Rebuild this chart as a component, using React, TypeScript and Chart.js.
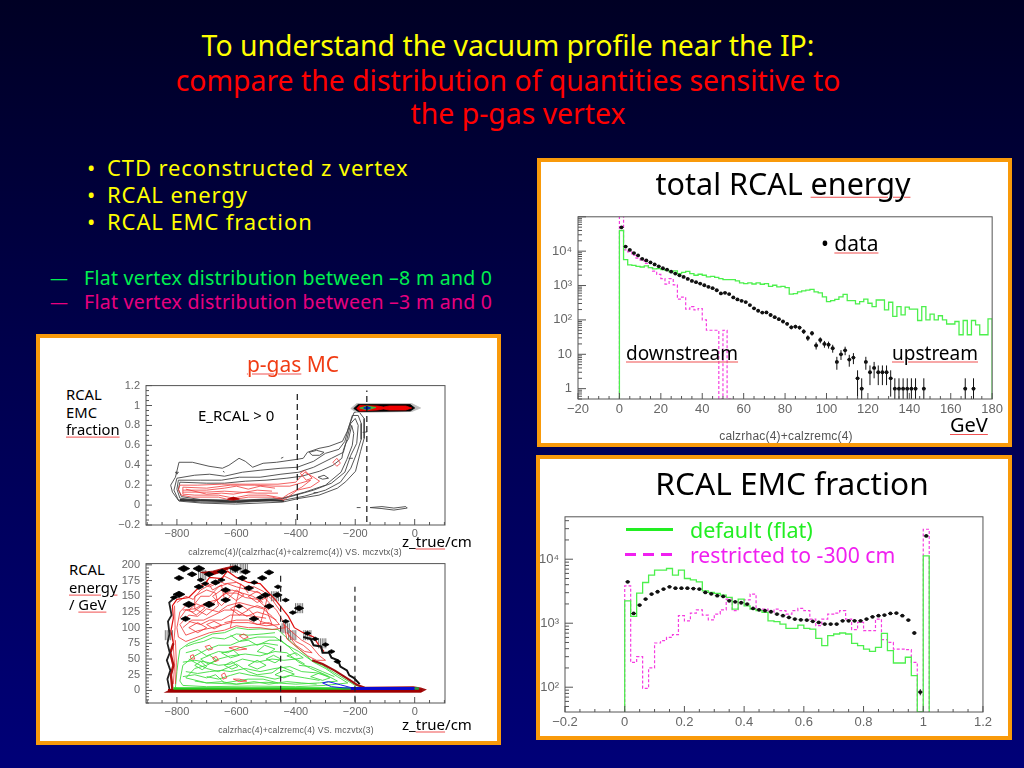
import React, { useEffect, useRef } from "react";
import { Chart, registerables } from "chart.js";

Chart.register(...registerables);

type P = [number, number];

// ---------- total RCAL energy ----------
const energyEdges = [0,2,4,6,8,10,12,14,16,18,20,22,24,26,28,30,32,34,36,38,40,42,44,46,48,50,52,54,56,58,60,62,64,66,68,70,72,74,76,78,80,82,84,86,88,90,92,94,96,98,100,102,104,106,108,110,112,114,116,118,120,122,124,126,128,130,132,134,136,138,140,142,144,146,148,150,152,154,156,158,160,162,164,166,168,170,172,174,176,178,180];
const energyFlat = [
  40000,5700,4000,3860,3620,3460,3750,3300,3040,3110,
  2900,2770,2490,2660,2220,2430,2590,2220,1990,2130,
  1990,1780,1860,1720,1590,1490,1490,1490,1360,1190,
  1140,1190,1110,1190,1090,1140,950,1020,910,950,
  870,560,585,655,700,735,770,655,610,470,
  340,362,395,470,550,363,363,292,340,400,
  305,245,380,380,195,327,126,244,140,234,
  205,205,96,244,100,147,100,132,100,76,
  76,90,37,96,37,96,72,37,37,107,
];
const energyRestrictedEdges = [0,2,4,6,8,10,12,14,16,18,20,22,24,26,28,30,32,34,36,38,40,42,44,46,48,50,52,54];
const energyRestricted = [200000,10900,9500,7600,6300,5500,4400,3300,2620,2100,1600,1100,1600,1050,400,460,205,245,195,215,100,50,50,50,0.5,50,0.5];
const energyDataX = [1,3,5,7,9,11,13,15,17,19,21,23,25,27,29,31,33,35,37,39,41,43,45,47,49,51,53,55,57,59,61,63,65,67,69,71,73,75,77,79,81,83,85,87,89,91,93,95,97,99,101,103,105,107,109,111,113,115,117,119,121,123,125,127,129,131,133,135,137,139,141,143,147,167,171];
const energyDataY = [49300,13600,10900,8780,7500,6000,5370,4700,4120,3620,3180,2900,2530,2230,1980,1780,1560,1360,1250,1140,1020,915,840,730,590,615,565,450,395,360,330,270,218,185,163,165,139,120,105,90,77,61,64,60,46,30,41,18,26,20,19,15,6,10,13,7,8,2,1,6,3,4,3,3,3,2,1,1,1,1,1,1,1,1,1];
const energyXTicks = [-20,0,20,40,60,80,100,120,140,160,180];
const energyTicks = [1,10,100,1000,10000];
const energyTickLabels = ["1","10","10²","10³","10⁴"];

// ---------- RCAL EMC fraction ----------
const fractionEdges = [0,0.02,0.04,0.06,0.08,0.1,0.12,0.14,0.16,0.18,0.2,0.22,0.24,0.26,0.28,0.3,0.32,0.34,0.36,0.38,0.4,0.42,0.44,0.46,0.48,0.5,0.52,0.54,0.56,0.58,0.6,0.62,0.64,0.66,0.68,0.7,0.72,0.74,0.76,0.78,0.8,0.82,0.84,0.86,0.88,0.9,0.92,0.94,0.96,0.98,1,1.02];
const fractionFlat = [2240,1280,2950,4330,5630,6740,6740,7160,5630,6740,5000,4770,4430,3210,3030,2920,2750,2530,1660,2380,1870,1660,1570,1480,1090,1060,970,830,830,935,830,811,581,446,638,678,703,678,485,446,395,364,420,695,372,239,239,294,152,41,11270];
const fractionRestricted = [3840,245,300,96,200,491,533,601,662,1310,1090,1440,1620,1340,1130,1390,1620,2380,1570,2110,2320,2850,1660,1660,1480,1660,1570,1390,1570,1700,1570,1160,914,1160,1390,1440,1570,1160,792,1030,764,764,1160,553,502,395,395,386,245,41,29400];
const fractionDataX = [0.01,0.03,0.05,0.07,0.09,0.11,0.13,0.15,0.17,0.19,0.21,0.23,0.25,0.27,0.29,0.31,0.33,0.35,0.37,0.39,0.41,0.43,0.45,0.47,0.49,0.51,0.53,0.55,0.57,0.59,0.61,0.63,0.65,0.67,0.69,0.71,0.73,0.75,0.77,0.79,0.81,0.83,0.85,0.87,0.89,0.91,0.93,0.95,0.97,0.99,1.01];
const fractionDataY = [4430,1420,1920,2380,2850,3100,3410,3700,3530,3530,3530,3480,3410,3030,2880,2690,2620,2240,2160,2090,1990,1700,1620,1570,1510,1390,1310,1230,1160,1130,1120,1070,1030,970,970,970,1090,1090,1090,1090,1160,1260,1310,1340,1420,1440,1310,1120,703,84,23100];
const fractionXTicks = [-0.2,0,0.2,0.4,0.6,0.8,1,1.2];
const fractionTicks = [100,1000,10000];
const fractionTickLabels = ["10²","10³","10⁴"];

// ---------- p-gas MC: EMC fraction vs z ----------
const fracGray: P[][] = [
  [[-793,.43],[-748,.43],[-692,.39],[-647,.37],[-625,.40],[-591,.47],[-570,.44],[-545,.38],[-510,.42],[-465,.43],[-395,.46],[-375,.47],[-361,.53],[-322,.57],[-288,.59],[-243,.64],[-227,.74],[-215,.84],[-204,.93],[-188,.94],[-170,.87],[-170,.67],[-182,.54],[-199,.34],[-232,.235],[-260,.17],[-322,.10],[-389,.067],[-445,.03],[-603,.01],[-715,.02],[-793,.04],[-815,.13],[-821,.2],[-805,.28],[-793,.43]],
  [[-800,.27],[-740,.30],[-690,.31],[-640,.29],[-580,.33],[-520,.35],[-450,.37],[-395,.38],[-340,.44],[-300,.52],[-255,.56],[-235,.64],[-222,.78],[-210,.9],[-190,.9],[-180,.82],[-180,.66],[-195,.52],[-215,.37],[-250,.23],[-300,.15],[-370,.09],[-440,.05],[-600,.025],[-720,.03],[-795,.05],[-810,.15],[-800,.27]],
  [[-795,.25],[-720,.25],[-650,.25],[-590,.28],[-520,.28],[-450,.31],[-390,.33],[-340,.38],[-280,.47],[-240,.53],[-228,.66],[-215,.82],[-200,.87],[-190,.8],[-195,.62],[-215,.50],[-235,.33],[-280,.22],[-340,.15],[-400,.10],[-450,.06],[-600,.04],[-720,.045],[-790,.07],[-800,.16],[-795,.25]],
  [[-790,.23],[-700,.22],[-640,.22],[-570,.24],[-500,.25],[-430,.27],[-380,.29],[-320,.34],[-275,.40],[-245,.47],[-240,.55],[-232,.62],[-222,.67],[-212,.80],[-205,.72],[-210,.60],[-228,.46],[-248,.33],[-300,.20],[-370,.13],[-420,.09],[-450,.065],[-600,.05],[-720,.055],[-785,.085],[-795,.16],[-790,.23]],
  [[-355,.53],[-330,.55],[-305,.53],[-320,.50],[-345,.50],[-355,.53]],
  [[-325,.28],[-305,.30],[-290,.27],[-310,.26],[-325,.28]],
  [[-150,-.025],[-110,-.015],[-70,-.03],[-30,-.015],[-25,-.03],[-70,-.05],[-110,-.035],[-150,-.025]],
  [[-195,-.025],[-182,-.025]],
  [[-175,.73],[-160,.735]],
  [[-222,.47],[-208,.47]],
  [[-340,.125],[-325,.125]],
  [[-450,.47],[-442,.48]],
  [[-645,.34],[-640,.33]],
  [[-805,.33],[-795,.33],[-800,.31],[-805,.33]],
];
const fracDarkBand: P[] = [[-790,.05],[-700,.045],[-600,.035],[-500,.05],[-440,.04]];
const fracRed: P[][] = [
  [[-790,.20],[-730,.20],[-650,.21],[-590,.21],[-520,.21],[-460,.21],[-400,.23],[-370,.33],[-340,.28],[-320,.24],[-350,.18],[-395,.15],[-440,.05],[-480,.08],[-560,.08],[-620,.05],[-660,.08],[-750,.08],[-785,.1],[-795,.15],[-790,.2]],
  [[-780,.18],[-700,.17],[-620,.2],[-540,.2],[-470,.19],[-420,.19],[-385,.22],[-350,.25],[-380,.18],[-425,.11],[-445,.07],[-500,.10],[-560,.10],[-610,.07],[-660,.10],[-740,.10],[-780,.11],[-780,.18]],
  [[-780,.15],[-700,.15],[-640,.17],[-600,.19],[-560,.16],[-520,.19],[-470,.17]],
  [[-780,.13],[-700,.13],[-640,.14],[-590,.13],[-530,.12],[-460,.12]],
  [[-770,.16],[-700,.11],[-650,.12],[-610,.11],[-570,.13],[-530,.15],[-480,.14]],
  [[-275,.43],[-262,.47],[-250,.42],[-262,.39],[-275,.43]],
  [[-385,.32],[-370,.35],[-345,.27],[-365,.25],[-385,.32]],
];
const fracRedSpot: P[] = [[-630,.06],[-610,.08],[-590,.06],[-610,.05],[-630,.06]];
const fracBandGray: P[] = [[-215,.97],[-195,1.02],[-10,1.02],[20,.975],[-10,.94],[-195,.93],[-215,.97]];
const fracBandBlack: P[] = [[-205,.97],[-190,1.01],[-15,1.01],[0,.975],[-15,.945],[-190,.94],[-205,.97]];
const fracBandRed: P[] = [[-195,.97],[-185,1.0],[-125,.995],[-105,.985],[-85,.995],[-30,.995],[-10,.975],[-30,.955],[-85,.955],[-105,.965],[-125,.955],[-185,.945],[-195,.97]];
const fracBandGreen: P[] = [[-185,.975],[-160,.995],[-130,.98],[-160,.955],[-185,.975]];
const fracBandBlue: P[] = [[-172,.975],[-160,.99],[-148,.975],[-160,.96],[-172,.975]];
const fracCutLeft: P[] = [[-395,-.15],[-395,1.12]];
const fracCutRight: P[] = [[-161,-.17],[-161,1.15]];
const fracYTicks = [-0.2,0,0.2,0.4,0.6,0.8,1,1.2];
const zAxisTicks = [-800,-600,-400,-200,0];

// ---------- p-gas MC: RCAL energy vs z ----------
const eGreen: P[][] = [
  [[-805,5],[-800,30],[-795,50],[-790,65],[-760,75],[-720,82],[-680,90],[-640,92],[-600,100],[-560,97],[-520,98],[-460,97],[-440,88],[-410,75],[-375,60],[-345,47],[-310,40],[-270,28],[-235,18],[-200,8],[-150,3],[-800,3],[-805,5]],
  [[-790,15],[-780,40],[-740,55],[-700,65],[-660,72],[-620,72],[-580,80],[-530,85],[-470,85],[-430,72],[-390,62],[-340,45],[-300,35],[-260,22],[-225,12],[-300,8],[-400,6],[-550,7],[-700,6],[-780,8],[-790,15]],
  [[-770,20],[-740,35],[-700,40],[-660,50],[-620,55],[-570,58],[-520,55],[-470,62],[-430,60],[-390,45],[-350,35],[-300,25],[-260,15],[-320,12],[-400,10],[-500,13],[-600,10],[-700,12],[-770,20]],
  [[-770,60],[-730,65],[-700,55],[-660,62],[-630,60],[-590,68],[-550,72],[-500,75],[-460,72]],
  [[-780,45],[-740,48],[-700,45],[-660,40],[-620,42],[-580,50],[-530,45],[-480,50],[-440,48],[-400,50],[-370,42]],
  [[-770,30],[-730,27],[-690,30],[-650,32],[-620,30],[-570,35],[-520,30],[-470,35],[-420,38],[-380,30],[-330,28],[-290,22]],
  [[-700,22],[-660,18],[-620,24],[-590,28],[-550,24],[-510,22],[-470,18],[-420,24],[-370,20],[-320,16]],
  [[-740,15],[-700,12],[-650,14],[-600,10],[-540,14],[-490,10],[-430,14],[-380,12],[-330,10]],
  [[-650,60],[-620,52],[-590,56],[-610,64],[-650,60]],
  [[-530,62],[-495,58],[-470,66],[-505,72],[-530,62]],
  [[-720,50],[-695,42],[-665,48],[-690,56],[-720,50]],
  [[-560,40],[-530,34],[-500,40],[-530,48],[-560,40]],
  [[-430,55],[-400,50],[-375,52],[-400,60],[-430,55]],
  [[-470,25],[-440,20],[-405,26],[-440,32],[-470,25]],
  [[-350,22],[-310,16],[-285,20],[-320,28],[-350,22]],
  [[-770,70],[-740,75],[-710,78],[-680,84],[-640,82],[-600,90],[-560,88],[-510,90],[-470,92]],
  [[-390,40],[-350,38],[-310,30],[-270,22]],
  [[-760,50],[-730,42],[-700,35],[-660,30],[-630,36],[-600,42],[-560,30],[-530,25],[-480,28],[-450,38],[-410,30]],
  [[-780,22],[-740,25],[-700,20],[-670,25],[-640,12],[-600,15],[-560,18],[-510,18],[-460,12]],
  [[-620,88],[-590,78],[-560,80],[-530,72],[-490,80],[-450,80],[-420,68],[-395,55]],
  [[-740,40],[-715,33],[-700,38],[-720,46],[-740,40]],
  [[-640,40],[-615,34],[-595,38],[-615,46],[-640,40]],
  [[-500,50],[-470,44],[-450,50],[-475,56],[-500,50]],
];
const eRed: P[][] = [
  [[-800,100],[-790,125],[-770,135],[-740,138],[-720,150],[-690,150],[-660,165],[-630,170],[-600,165],[-560,160],[-520,155],[-490,140],[-465,128],[-445,112],[-435,100],[-480,97],[-520,100],[-560,100],[-600,103],[-640,96],[-690,92],[-730,85],[-770,78],[-795,85],[-800,100]],
  [[-790,105],[-760,120],[-730,118],[-700,130],[-660,125],[-630,135],[-590,140],[-550,135],[-510,130],[-480,118],[-455,105],[-500,103],[-560,108],[-620,108],[-680,100],[-730,95],[-770,88],[-790,105]],
  [[-780,128],[-740,130],[-700,140],[-660,145],[-640,155],[-600,155],[-570,148],[-530,145],[-490,128]],
  [[-760,110],[-720,105],[-690,112],[-650,112],[-620,120],[-580,120],[-540,118],[-500,115]],
  [[-720,170],[-690,165],[-660,172],[-640,182],[-610,175],[-580,168],[-560,155]],
  [[-680,150],[-650,135],[-620,150],[-650,160],[-680,150]],
  [[-620,130],[-590,120],[-560,128],[-590,138],[-620,130]],
  [[-760,100],[-730,92],[-700,100],[-730,108],[-760,100]],
  [[-440,105],[-410,92],[-380,80],[-350,72],[-320,55],[-300,48],[-330,48],[-360,55],[-395,68],[-430,82],[-440,105]],
  [[-430,92],[-400,78],[-375,72],[-345,60],[-370,62],[-400,72],[-430,92]],
  [[-812,10],[-808,40],[-812,70],[-806,100],[-808,135]],
  [[-805,10],[-802,45],[-805,80]],
  [[-740,150],[-700,160],[-670,155],[-660,135],[-700,120],[-740,130],[-740,150]],
  [[-560,130],[-530,135],[-500,130],[-480,105],[-520,110],[-560,130]],
  [[-625,68],[-600,70],[-565,66],[-600,64],[-625,68]],
  [[-705,70],[-690,72],[-680,66],[-695,64],[-705,70]],
  [[-680,52],[-668,54],[-660,48],[-672,46],[-680,52]],
  [[-650,25],[-640,28],[-632,20],[-645,18],[-650,25]],
  [[-610,18],[-590,18],[-565,15],[-590,14],[-610,18]],
  [[-755,55],[-745,57],[-740,50],[-752,50],[-755,55]],
  [[-590,87],[-575,90],[-560,85],[-575,82],[-590,87]],
  [[-800,140],[-770,150],[-745,145],[-720,160],[-690,168],[-660,175],[-640,170],[-600,172],[-570,165],[-540,165],[-510,158],[-480,145],[-450,125]],
  [[-790,115],[-770,128],[-745,125],[-715,135],[-680,138],[-650,150],[-615,160],[-580,155],[-545,150],[-510,140]],
  [[-780,100],[-750,112],[-710,112],[-675,120],[-640,128],[-600,128],[-565,118],[-530,125],[-495,120],[-465,112]],
  [[-640,108],[-600,112],[-560,112],[-530,105],[-490,108],[-460,100]],
  [[-760,128],[-735,138],[-705,132],[-735,120],[-760,128]],
  [[-560,150],[-530,158],[-500,148],[-530,140],[-560,150]],
  [[-700,105],[-675,110],[-650,104],[-675,98],[-700,105]],
  [[-620,150],[-600,160],[-575,152],[-600,143],[-620,150]],
  [[-700,175],[-680,160],[-650,168],[-640,145]],
  [[-620,100],[-610,125],[-595,150],[-585,170]],
  [[-520,105],[-505,130],[-495,150]],
];
const eEnvelopeRed: P[] = [[-815,5],[-820,25],[-812,40],[-822,60],[-812,75],[-820,95],[-812,115],[-815,135],[-800,145],[-760,148],[-735,160],[-705,170],[-690,180],[-650,178],[-630,190],[-600,180],[-560,172],[-520,170],[-500,160],[-470,145],[-445,130],[-425,118],[-405,100],[-375,92],[-340,85],[-320,70],[-305,62]];
const eLeftRed: P[] = [[-815,0],[-820,25],[-812,40],[-822,60],[-812,75]];
const eEdgeRed: P[] = [[-345,48],[-310,42],[-270,32],[-230,20],[-195,9],[-165,4],[-5,5],[20,3],[32,1],[20,-2],[-830,-2],[-822,0]];
const eEdgeBlack: P[] = [[-825,2],[-832,18],[-822,32],[-834,48],[-824,60],[-832,75],[-825,90],[-830,110],[-818,120],[-826,140],[-812,146],[-800,152]];
const eDiagBlack: P[] = [[-375,85],[-350,82],[-340,72],[-315,70],[-310,60],[-288,60],[-280,52],[-258,48],[-250,38],[-228,32],[-220,24],[-205,20],[-185,10]];
const eStreak: P[] = [[-720,188],[-680,190],[-640,195],[-610,198],[-640,190],[-680,184],[-720,188]];
const eGreenStrip: P[] = [[-812,3],[-200,3]];
const eBlueStrip: P[] = [[-215,3],[0,3]];
const eGreenEnd: P[] = [[0,3],[14,3]];
const eBaseRed: P[] = [[-830,0],[25,0]];
const eBlueLoop: P[] = [[-310,12],[-290,14],[-250,9],[-210,4],[-235,4],[-280,6],[-310,12]];
const eBlobX = [-777,-726,-793,-749,-692,-648,-603,-569,-490,-513,-580,-670,-726,-793,-636,-636,-558,-502,-462,-434,-389,-692,-771,-541,-591,-490,-434,-361,-300,-260,-705,-760,-650,-720,-540,-460,-810,-520,-410,-335,-280];
const eBlobY = [194,194,179,185,185,189,194,189,188,179,179,172,165,153,160,144,163,152,152,144,131,137,114,114,134,134,110,91,73,46,170,137,176,176,172,165,148,148,124,82,62];
const eBlobSize = [5,5,4,4,4,4,5,4,4,4,4,4,4,5,4,4,4,4,4,3,4,5,4,4,3,4,3,3,3,3,3,5,3,3,3,3,3,3,3,3,3];
const eCombX = [-827,-608,-715,-389,-434,-412,-361,-311,-575,-470];
const eCombY = [88,195,184,131,99,88,88,75,194,150];
const eCutLeft: P[] = [[-451,-18],[-451,187]];
const eCutRight: P[] = [[-201,-18],[-201,165]];
const eYTicks = [0,25,50,75,100,125,150,175,200];

const FONT = '"Noto Sans", sans-serif';
const AXIS_FONT = '"Liberation Sans", sans-serif';

const pts = (xs: number[], ys: number[]) => xs.map((x, i) => ({ x, y: ys[i] }));
const pairs = (ps: P[]) => ps.map(([x, y]) => ({ x, y }));
const hist = (edges: number[], counts: number[], floor: number) => [
  { x: edges[0], y: floor },
  ...counts.map((y, i) => ({ x: edges[i], y })),
  { x: edges[counts.length], y: floor },
];
const errorBars = (xs: number[], ys: number[], floor: number, halfBin: number) =>
  xs.flatMap((x, i) => {
    const e = Math.sqrt(ys[i]);
    return [
      { x, y: Math.max(ys[i] - e, floor) }, { x, y: ys[i] + e }, { x, y: NaN },
      { x: x - halfBin, y: ys[i] }, { x: x + halfBin, y: ys[i] }, { x, y: NaN },
    ];
  });
const combs = (xs: number[], ys: number[]) =>
  xs.flatMap((x, i) =>
    [-12, -6, 0, 6, 12].flatMap((d) => [{ x: x + d, y: ys[i] - 8 }, { x: x + d, y: ys[i] + 8 }, { x, y: NaN }])
  );

const line = (data: any[], color: string, width = 0.8, extra: any = {}) => ({
  data, borderColor: color, backgroundColor: color, borderWidth: width,
  pointRadius: 0, fill: false, tension: 0, ...extra,
});
const dots = (data: any[], color: string, radius: any, style = "circle") => ({
  data, showLine: false, borderColor: color, backgroundColor: color, borderWidth: 0,
  pointRadius: radius, pointStyle: style,
});
const filled = (ps: P[], color: string) => line(pairs(ps), color, 0.8, { fill: "shape" });
const blob = (x: number, y: number, s: number): P[] => [[x - s * 4, y], [x, y + s], [x + s * 4, y], [x, y - s], [x - s * 4, y]];

const makeFrameTicks = (c: any) => ({
  id: "frameTicks",
  afterDatasetsDraw(chart: any) {
    const { ctx, chartArea: a, scales: { x, y } } = chart;
    ctx.save();
    ctx.strokeStyle = "#555";
    ctx.lineWidth = 1;
    ctx.strokeRect(a.left, a.top, a.right - a.left, a.bottom - a.top);
    const vt = (v: number, len: number) => {
      const px = x.getPixelForValue(v);
      ctx.beginPath(); ctx.moveTo(px, a.bottom); ctx.lineTo(px, a.bottom - len); ctx.stroke();
    };
    const ht = (v: number, len: number) => {
      const py = y.getPixelForValue(v);
      ctx.beginPath(); ctx.moveTo(a.left, py); ctx.lineTo(a.left + len, py); ctx.stroke();
    };
    const linear = (min: number, max: number, major: number, minor: number, draw: any) => {
      const first = Math.ceil(min / minor - 1e-6);
      const last = Math.floor(max / minor + 1e-6);
      for (let k = first; k <= last; k++) {
        const v = k * minor;
        const r = v / major;
        draw(v, Math.abs(r - Math.round(r)) < 1e-6 ? 6 : 3);
      }
    };
    linear(c.xMin, c.xMax, c.xMajor, c.xMinor, vt);
    if (c.logY) {
      for (let d = -1; d <= 6; d++) {
        for (let m = 1; m < 10; m++) {
          const v = m * Math.pow(10, d);
          if (v >= c.yMin && v <= c.yMax) ht(v, m === 1 ? 8 : 4);
        }
      }
    } else {
      linear(c.yMin, c.yMax, c.yMajor, c.yMinor, ht);
    }
    ctx.restore();
  },
});

const fmt = (v: number) => {
  const r = Number(Number(v).toFixed(2));
  return (r < 0 ? "−" : "") + String(Math.abs(r));
};

type Box = { l: number; t: number; r: number; b: number };
// The room Chart.js leaves above the plot area comes to 13px here, so the canvas is placed with that in mind.
const AXIS_W = 38, AXIS_H = 22, PAD_R = 12, PAD_T = 13;

function options(c: any) {
  const tickBase = {
    color: "#666",
    font: { family: AXIS_FONT, size: c.fontSize ?? 11 },
    autoSkip: false,
    maxRotation: 0,
    minRotation: 0,
  };
  const off = { display: false, drawTicks: false };
  return {
    responsive: false,
    animation: false,
    events: [],
    layout: { autoPadding: false, padding: { left: 0, right: PAD_R, top: 0, bottom: 0 } },
    plugins: { legend: { display: false }, tooltip: { enabled: false } },
    scales: {
      x: {
        type: "linear", min: c.xMin, max: c.xMax,
        grid: off, border: { display: false },
        ticks: {
          ...tickBase, padding: c.xPad ?? 3,
          callback: (v: number) => fmt(v),
        },
        afterBuildTicks(s: any) { s.ticks = c.xTicks.map((value: number) => ({ value })); },
        afterFit(s: any) { s.height = AXIS_H; },
      },
      y: {
        type: c.logY ? "logarithmic" : "linear", min: c.yMin, max: c.yMax,
        grid: off, border: { display: false },
        ticks: {
          ...tickBase, padding: 6,
          callback: (v: number) => (c.yLabels ? c.yLabels[c.yTicks.indexOf(v)] : fmt(v)),
        },
        afterBuildTicks(s: any) { s.ticks = c.yTicks.map((value: number) => ({ value })); },
        afterFit(s: any) { s.width = AXIS_W; },
      },
    },
  };
}

function Plot({ box, datasets, axis }: { box: Box; datasets: any[]; axis: any }) {
  const ref = useRef<HTMLCanvasElement>(null);
  useEffect(() => {
    const chart = new Chart(ref.current as HTMLCanvasElement, {
      type: "line",
      // Chart.js paints the first dataset last, so the list is reversed to paint in reading order.
      data: { datasets: [...datasets].reverse() },
      options: options(axis) as any,
      plugins: [makeFrameTicks(axis)],
    } as any);
    return () => chart.destroy();
  }, []);
  const w = box.r - box.l + AXIS_W + PAD_R;
  const h = box.b - box.t + AXIS_H + PAD_T;
  return (
    <canvas
      ref={ref}
      width={w}
      height={h}
      style={{ position: "absolute", left: box.l - AXIS_W, top: box.t - PAD_T, width: w, height: h, filter: "blur(0.4px)" }}
    />
  );
}

const GREEN = "#4cf04c";
const MAGENTA = "#f53de0";
const DASH = { borderDash: [3, 2] };
const CUT = { borderDash: [6, 4] };

const energySets = [
  line(hist(energyRestrictedEdges, energyRestricted, 0.5), MAGENTA, 1.2, { stepped: true, ...DASH }),
  line(hist(energyEdges, energyFlat, 0.5), GREEN, 1.3, { stepped: true }),
  line(errorBars(energyDataX, energyDataY, 0.5, 0.9), "#111", 1),
  dots(pts(energyDataX, energyDataY), "#111", 1.9),
];
const fractionSets = [
  line(hist(fractionEdges, fractionRestricted, 41), MAGENTA, 1.2, { stepped: true, ...DASH }),
  line(hist(fractionEdges, fractionFlat, 41), GREEN, 1.3, { stepped: true }),
  line(errorBars(fractionDataX, fractionDataY, 41, 0.008), "#111", 1),
  dots(pts(fractionDataX, fractionDataY), "#111", 1.9),
];
const fracSets = [
  ...fracGray.map((c) => line(pairs(c), "#444", 0.9)),
  line(pairs(fracDarkBand), "#333", 2),
  ...fracRed.map((c) => line(pairs(c), "#f03a3a", 0.8)),
  filled(fracRedSpot, "#b00000"),
  filled(fracBandGray, "#bbb"),
  filled(fracBandBlack, "#000"),
  filled(fracBandRed, "#f00000"),
  filled(fracBandGreen, "#30c040"),
  filled(fracBandBlue, "#0020c0"),
  line(pairs(fracCutLeft), "#111", 1.2, CUT),
  line(pairs(fracCutRight), "#111", 1.2, CUT),
];
const eSets = [
  line(combs(eCombX, eCombY), "#777", 1),
  ...eGreen.map((c) => line(pairs(c), "#3fdc3f", 0.9)),
  ...eRed.map((c) => line(pairs(c), "#f03030", 0.8)),
  line(pairs(eEnvelopeRed), "#e01010", 1.2),
  line(pairs(eLeftRed), "#b01010", 2.4),
  line(pairs(eEdgeBlack), "#222", 1.8),
  line(pairs(eDiagBlack), "#111", 2),
  line(pairs(eEdgeRed), "#a01010", 2.2),
  filled(eStreak, "#a00000"),
  ...eBlobX.map((x, i) => filled(blob(x, eBlobY[i], eBlobSize[i]), "#000")),
  line(pairs(eBaseRed), "#a00000", 3),
  line(pairs(eGreenStrip), "#20d020", 2.4),
  line(pairs(eBlueLoop), "#1a1aee", 1),
  line(pairs(eBlueStrip), "#0a0ad0", 3),
  line(pairs(eGreenEnd), "#20a040", 2.4),
  line(pairs(eCutLeft), "#222", 1.2, CUT),
  line(pairs(eCutRight), "#222", 1.2, CUT),
];

const energyAxis = { xMin: -20, xMax: 180, xMajor: 20, xMinor: 5, xTicks: energyXTicks, yMin: 0.5, yMax: 100000, logY: true, yTicks: energyTicks, yLabels: energyTickLabels, fontSize: 13 };
const fractionAxis = { xMin: -0.2, xMax: 1.2, xMajor: 0.2, xMinor: 0.05, xTicks: fractionXTicks, yMin: 41, yMax: 46000, logY: true, yTicks: fractionTicks, yLabels: fractionTickLabels, fontSize: 13 };
const fracAxis = { xMin: -904, xMax: 102, xMajor: 200, xMinor: 50, xTicks: zAxisTicks, yMin: -0.2, yMax: 1.2, yMajor: 0.2, yMinor: 0.05, yTicks: fracYTicks, fontSize: 11, xPad: 2 };
const eAxis = { xMin: -904, xMax: 102, xMajor: 200, xMinor: 50, xTicks: zAxisTicks, yMin: -20, yMax: 202, yMajor: 25, yMinor: 5, yTicks: eYTicks, fontSize: 11, xPad: 2 };

function T({ x, y, size, color = "#000", center, children, style }: any) {
  return (
    <div
      style={{
        position: "absolute", left: x, top: y, fontSize: size, color, whiteSpace: "nowrap", lineHeight: 1,
        fontFamily: FONT, transform: center ? "translate(-50%,-50%)" : "translateY(-50%)", ...style,
      }}
    >
      {children}
    </div>
  );
}
const U = ({ children }: any) => (
  <span style={{ textDecoration: "underline", textDecorationColor: "#f05050", textDecorationThickness: 1, textUnderlineOffset: 2 }}>{children}</span>
);
const Panel = ({ l, t, r, b }: Box) => (
  <div style={{ position: "absolute", left: l, top: t, width: r - l, height: b - t, boxSizing: "border-box", background: "#fff", border: "4px solid #f99a0a" }} />
);
const AXIS_TITLE = { fontFamily: AXIS_FONT, letterSpacing: 0.2 };
const BULLET = { letterSpacing: 0.9 };
const FLAT = { letterSpacing: 0.27 };

export default function App() {
  return (
    <div style={{ position: "fixed", left: 0, top: 0, width: 1024, height: 768, overflow: "hidden", background: "linear-gradient(180deg,#000024 0%,#000050 50%,#000078 100%)" }}>
      <T x={508} y={45} size={28.4} color="#ffff00" center>To understand the vacuum profile near the IP:</T>
      <T x={508} y={80} size={28.4} color="#ff0000" center>compare the distribution of quantities sensitive to</T>
      <T x={518} y={113} size={28.4} color="#ff0000" center>the p-gas vertex</T>

      <T x={87} y={167} size={22} color="#ffff00">•</T>
      <T x={107} y={167} size={22} color="#ffff00" style={BULLET}>CTD reconstructed z vertex</T>
      <T x={87} y={194} size={22} color="#ffff00">•</T>
      <T x={107} y={194} size={22} color="#ffff00" style={BULLET}>RCAL energy</T>
      <T x={87} y={221} size={22} color="#ffff00">•</T>
      <T x={107} y={221} size={22} color="#ffff00" style={BULLET}>RCAL EMC fraction</T>
      <T x={50} y={278} size={18} color="#00f050">—</T>
      <T x={84} y={278} size={19.5} color="#00f050" style={FLAT}>Flat vertex distribution between –8 m and 0</T>
      <T x={50} y={302} size={18} color="#e8007f">—</T>
      <T x={84} y={302} size={19.5} color="#e8007f" style={FLAT}>Flat vertex distribution between –3 m and 0</T>

      <Panel l={537} t={158} r={1012} b={447} />
      <Panel l={536} t={455} r={1012} b={740} />
      <Panel l={36} t={334} r={501} b={745} />

      <Plot box={{ l: 578, t: 216, r: 994, b: 399 }} datasets={energySets} axis={energyAxis} />
      <Plot box={{ l: 565, t: 516, r: 983, b: 712 }} datasets={fractionSets} axis={fractionAxis} />
      <Plot box={{ l: 146, t: 386, r: 445, b: 525 }} datasets={fracSets} axis={fracAxis} />
      <Plot box={{ l: 146, t: 564, r: 445, b: 703 }} datasets={eSets} axis={eAxis} />

      <T x={783} y={183} size={30.5} center>total RCAL <U>energy</U></T>
      <T x={821} y={243} size={21}>• <U>data</U></T>
      <T x={626} y={353} size={19}><U>downstream</U></T>
      <T x={892} y={353} size={19}><U>upstream</U></T>
      <T x={950} y={425} size={20}><U>GeV</U></T>
      <T x={786} y={436} size={12} color="#555" center style={AXIS_TITLE}>calzrhac(4)+calzremc(4)</T>

      <T x={792} y={483} size={31.6} center>RCAL EMC fraction</T>
      <div style={{ position: "absolute", left: 626, top: 528, width: 47, height: 3, background: "#22ee22" }} />
      <T x={690} y={530} size={21.5} color="#22ee22">default (flat)</T>
      <div style={{ position: "absolute", left: 625, top: 553, width: 47, height: 3, background: "repeating-linear-gradient(90deg,#f020f0 0 11px,transparent 11px 18px)" }} />
      <T x={690} y={555} size={21.2} color="#f020f0">restricted to -300 cm</T>

      <T x={293} y={364} size={21} color="#f03c14" center><U>p-gas</U> MC</T>
      <T x={66} y={394} size={14.8}>RCAL</T>
      <T x={66} y={412} size={14.8}>EMC</T>
      <T x={66} y={429} size={14.8}><U>fraction</U></T>
      <T x={198} y={415} size={15}>E_RCAL &gt; 0</T>
      <T x={402} y={541} size={15}>z_<U>true</U>/cm</T>
      <T x={295} y={552} size={8.7} color="#555" center style={AXIS_TITLE}>calzremc(4)/(calzrhac(4)+calzremc(4)) VS. mczvtx(3)</T>

      <T x={69} y={569} size={14.8}>RCAL</T>
      <T x={69} y={587} size={14.8}><U>energy</U></T>
      <T x={69} y={604} size={14.8}>/ <U>GeV</U></T>
      <T x={402} y={724} size={15}>z_<U>true</U>/cm</T>
      <T x={296} y={730} size={8.6} color="#555" center style={AXIS_TITLE}>calzrhac(4)+calzremc(4) VS. mczvtx(3)</T>
    </div>
  );
}
